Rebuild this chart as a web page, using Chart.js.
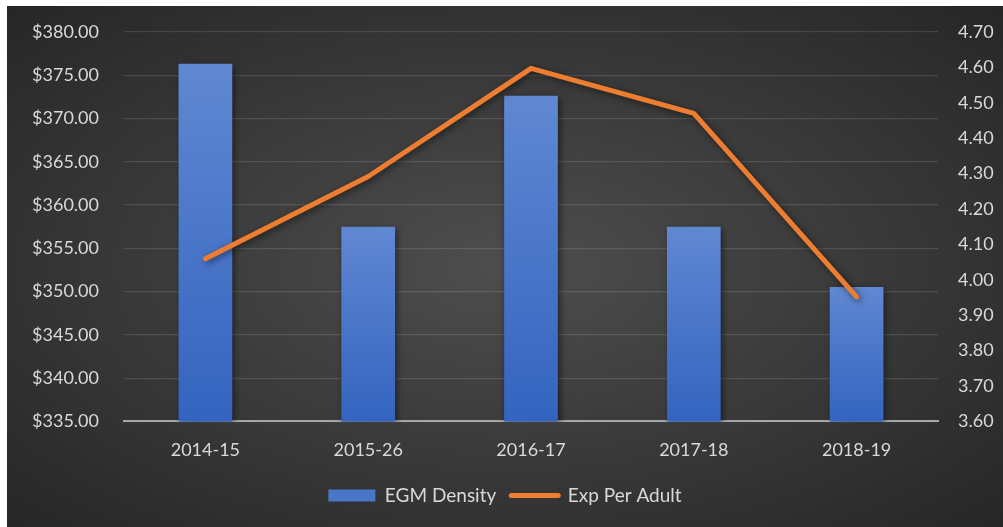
<!DOCTYPE html>
<html>
<head>
<meta charset="utf-8">
<script src="https://cdn.jsdelivr.net/npm/chart.js@4.4.0/dist/chart.umd.min.js"></script>
<style>
  html, body { margin: 0; padding: 0; background: #fff; }
  #wrap {
    position: absolute; left: 7px; top: 6px; width: 996px; height: 521px;
    background: radial-gradient(ellipse at 50% 50%, #4e4e4e 0%, #3c3c3c 45%, #262626 100%);
  }
</style>
</head>
<body>
<div id="wrap"><canvas id="egmChart" width="996" height="521"></canvas></div>
<script>
// Data
const years = ['2014-15', '2015-26', '2016-17', '2017-18', '2018-19'];
const egmDensity = [4.61, 4.15, 4.52, 4.15, 3.98];
const expPerAdult = [353.8, 363.3, 375.8, 370.6, 349.4];

const FONT = 'Lato, "Open Sans", sans-serif';
const TEXT = '#d9d9d9';

// per-bar vertical gradient, like the Excel fill
function barFill(context) {
  const chart = context.chart;
  const area = chart.chartArea;
  const scale = chart.scales.y1;
  if (!area || !scale || context.raw === undefined) return '#4a76c8';
  const top = scale.getPixelForValue(context.raw);
  const g = chart.ctx.createLinearGradient(0, top, 0, area.bottom);
  g.addColorStop(0, '#6088d2');
  g.addColorStop(1, '#3464c0');
  return g;
}

// soft drop shadow under bars and line
const shadowPlugin = {
  id: 'shadow',
  beforeDatasetDraw(chart) {
    const ctx = chart.ctx;
    ctx.save();
    ctx.shadowColor = 'rgba(0,0,0,0.55)';
    ctx.shadowBlur = 7;
    ctx.shadowOffsetX = 2;
    ctx.shadowOffsetY = 2;
  },
  afterDatasetDraw(chart) {
    chart.ctx.restore();
  }
};

// fixed axis width, and don't let tick padding push the plot top down
function fitY(width) {
  return function(s) {
    s.width = width;
    s.paddingTop = 0;
    s.paddingBottom = 0;
  };
}

document.addEventListener('DOMContentLoaded', function() {
  const ctx = document.getElementById('egmChart').getContext('2d');

  new Chart(ctx, {
    data: {
      labels: years,
      datasets: [{
        type: 'line',
        label: 'Exp Per Adult',
        data: expPerAdult,
        yAxisID: 'y',
        borderColor: '#ed7d31',
        backgroundColor: '#ed7d31',
        borderWidth: 5,
        borderCapStyle: 'round',
        borderJoinStyle: 'round',
        pointRadius: 0,
        pointStyle: 'line',
        tension: 0,
        fill: false
      }, {
        type: 'bar',
        label: 'EGM Density',
        data: egmDensity,
        yAxisID: 'y1',
        backgroundColor: barFill,
        borderWidth: 0,
        categoryPercentage: 1,
        barPercentage: 0.33,
        pointStyle: 'rect'
      }]
    },
    plugins: [shadowPlugin],
    options: {
      responsive: false,
      animation: false,
      layout: { padding: { top: 26, bottom: 12 } },
      scales: {
        x: {
          grid: { display: false },
          border: { display: true, color: '#a6a6a6', width: 2 },
          ticks: { color: TEXT, font: { family: FONT, size: 18 }, padding: 10, maxRotation: 0 }
        },
        y: {
          position: 'left',
          min: 335,
          max: 380,
          grid: { color: 'rgba(255,255,255,0.12)', lineWidth: 1.2, drawTicks: false },
          border: { display: false },
          ticks: {
            stepSize: 5,
            color: TEXT,
            font: { family: FONT, size: 18 },
            padding: 25,
            callback: (v) => '$' + v.toFixed(2)
          },
          afterFit: fitY(117)
        },
        y1: {
          position: 'right',
          min: 3.6,
          max: 4.7,
          grid: { display: false, drawTicks: false },
          border: { display: false },
          ticks: {
            stepSize: 0.1,
            color: TEXT,
            font: { family: FONT, size: 18 },
            padding: 20,
            callback: (v) => v.toFixed(2)
          },
          afterFit: fitY(65)
        }
      },
      plugins: {
        tooltip: { enabled: false },
        legend: {
          display: true,
          position: 'bottom',
          labels: {
            color: TEXT,
            font: { family: FONT, size: 19 },
            usePointStyle: true,
            pointStyleWidth: 47,
            boxHeight: 12,
            padding: 15,
            sort: (a, b) => b.datasetIndex - a.datasetIndex,
            generateLabels: function(chart) {
              const items = Chart.defaults.plugins.legend.labels.generateLabels(chart);
              items.forEach(function(it) {
                if (it.pointStyle === 'rect') {
                  it.fillStyle = '#4a76c8';
                  it.strokeStyle = 'rgba(0,0,0,0)';
                  it.lineWidth = 0;
                } else {
                  it.strokeStyle = '#ed7d31';
                  it.lineWidth = 5;
                  it.lineCap = 'round';
                }
              });
              return items;
            }
          }
        }
      }
    }
  });
});
</script>
</body>
</html>
